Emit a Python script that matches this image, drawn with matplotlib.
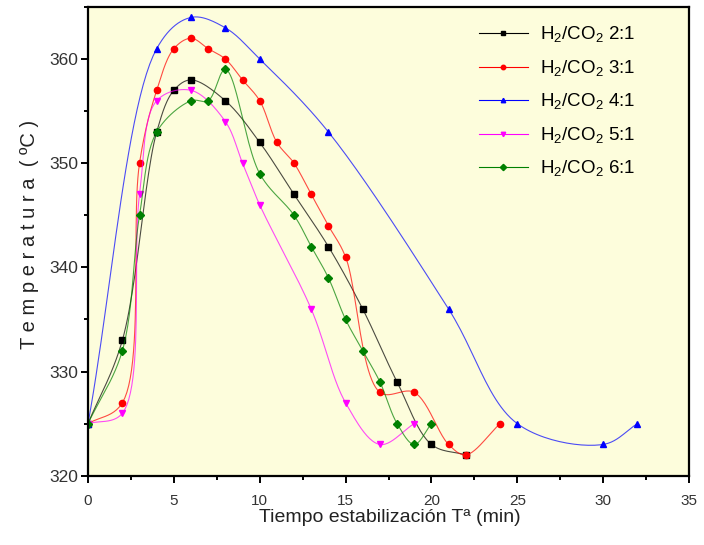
import numpy as np
import matplotlib
matplotlib.use("Agg")
import matplotlib.pyplot as plt
from matplotlib.ticker import MultipleLocator

plt.rcParams['font.family'] = ['Liberation Sans', 'DejaVu Sans']
plt.rcParams['mathtext.fontset'] = 'custom'
plt.rcParams['mathtext.rm'] = 'Liberation Sans'

# tiempo (min) / temperatura (ºC) para cada relacion H2/CO2
t_21 = [0, 2, 4, 5, 6, 8, 10, 12, 14, 16, 18, 20, 22]
T_21 = [325, 333, 353, 357, 358, 356, 352, 347, 342, 336, 329, 323, 322]

t_31 = [0, 2, 3, 4, 5, 6, 7, 8, 9, 10, 11, 12, 13, 14, 15, 17, 19, 21, 22, 24]
T_31 = [325, 327, 350, 357, 361, 362, 361, 360, 358, 356, 352, 350, 347, 344, 341, 328, 328, 323, 322, 325]

t_41 = [0, 4, 6, 8, 10, 14, 21, 25, 30, 32]
T_41 = [325, 361, 364, 363, 360, 353, 336, 325, 323, 325]

t_51 = [0, 2, 3, 4, 6, 8, 9, 10, 13, 15, 17, 19]
T_51 = [325, 326, 347, 356, 357, 354, 350, 346, 336, 327, 323, 325]

t_61 = [0, 2, 3, 4, 6, 7, 8, 10, 12, 13, 14, 15, 16, 17, 18, 19, 20]
T_61 = [325, 332, 345, 353, 356, 356, 359, 349, 345, 342, 339, 335, 332, 329, 325, 323, 325]

labels = ['H$_2$/CO$_2$ 2:1', 'H$_2$/CO$_2$ 3:1', 'H$_2$/CO$_2$ 4:1',
          'H$_2$/CO$_2$ 5:1', 'H$_2$/CO$_2$ 6:1']
colors = ['black', 'red', 'blue', 'magenta', 'green']
markers = ['s', 'o', '^', 'v', 'D']

# escala aproximada en pixeles por unidad (para suavizar en espacio de pantalla)
SX, SY = 17.17, 10.4


def spline(x, y, n=25):
    # catmull-rom centripeta, parecido al "spline" de Origin
    P = np.column_stack([np.asarray(x, float) * SX, np.asarray(y, float) * SY])
    P = np.vstack([2 * P[0] - P[1], P, 2 * P[-1] - P[-2]])
    out = []
    for i in range(1, len(P) - 2):
        P0, P1, P2, P3 = P[i - 1], P[i], P[i + 1], P[i + 2]
        t0 = 0.0
        t1 = t0 + np.linalg.norm(P1 - P0) ** 0.5
        t2 = t1 + np.linalg.norm(P2 - P1) ** 0.5
        t3 = t2 + np.linalg.norm(P3 - P2) ** 0.5
        t = np.linspace(t1, t2, n, endpoint=False)[:, None]
        A1 = (t1 - t) / (t1 - t0) * P0 + (t - t0) / (t1 - t0) * P1
        A2 = (t2 - t) / (t2 - t1) * P1 + (t - t1) / (t2 - t1) * P2
        A3 = (t3 - t) / (t3 - t2) * P2 + (t - t2) / (t3 - t2) * P3
        B1 = (t2 - t) / (t2 - t0) * A1 + (t - t0) / (t2 - t0) * A2
        B2 = (t3 - t) / (t3 - t1) * A2 + (t - t1) / (t3 - t1) * A3
        out.append((t2 - t) / (t2 - t1) * B1 + (t - t1) / (t2 - t1) * B2)
    out.append(P[-2][None, :])
    C = np.vstack(out)
    return C[:, 0] / SX, C[:, 1] / SY


fig = plt.figure(figsize=(7.04, 5.45), dpi=100)
ax = fig.add_axes([88 / 704, 1 - 475.7 / 545, 601 / 704, 468.7 / 545])
ax.set_facecolor('#fdfddc')

series = [(t_21, T_21), (t_31, T_31), (t_41, T_41), (t_51, T_51), (t_61, T_61)]
for (x, y), lab, c, mk in zip(series, labels, colors, markers):
    xs, ys = spline(x, y)
    ax.plot(xs, ys, color=c, lw=0.8, alpha=0.7)
    ax.plot(x, y, ls='none', marker=mk, color=c, ms=4.5 if mk != 'D' else 3.8)
    ax.plot([], [], color=c, lw=0.8, marker=mk, ms=3.2, label=lab)

ax.set_xlim(0, 35)
ax.set_ylim(320, 365)
ax.xaxis.set_major_locator(MultipleLocator(5))
ax.xaxis.set_minor_locator(MultipleLocator(2.5))
ax.yaxis.set_major_locator(MultipleLocator(10))
ax.yaxis.set_minor_locator(MultipleLocator(5))
ax.tick_params(which='both', direction='out', width=1.4, colors='black')
ax.tick_params(which='major', length=5)
ax.tick_params(which='minor', length=3)
ax.tick_params(axis='x', labelsize=11, labelcolor='#333333', pad=8)
ax.tick_params(axis='y', labelsize=12.5, labelcolor='#333333', pad=2)
for sp in ax.spines.values():
    sp.set_linewidth(1.6)

fig.text(390 / 704, 1 - 518 / 545, 'Tiempo estabilización Tª (min)',
         ha='center', va='center', fontsize=14, color='#222222')
fig.text(30 / 704, 1 - 234 / 545, 'T e m p e r a t u r a  ( ºC )',
         ha='center', va='center', rotation=90, fontsize=14.5, color='#222222')

ax.legend(loc='upper left', bbox_to_anchor=(479 / 704, 1 - 25 / 545),
          bbox_transform=fig.transFigure, frameon=False, fontsize=13.5,
          handlelength=2.6, handletextpad=0.65, labelspacing=0.7,
          borderpad=0, borderaxespad=0)

fig.savefig('out.png', dpi=100)
